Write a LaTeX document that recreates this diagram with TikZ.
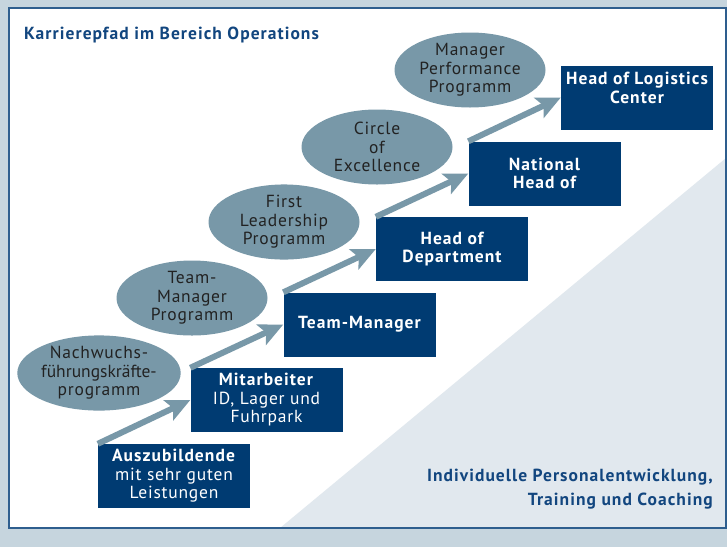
\documentclass[tikz,border=0pt]{standalone}
\usepackage{fontspec}
\setmainfont{PT Sans}[LetterSpace=4.5, BoldFeatures={LetterSpace=6}]
\usetikzlibrary{arrows.meta,shapes.geometric}
\definecolor{outer}{HTML}{C6D5DE}
\definecolor{rim}{HTML}{2E5E8E}
\definecolor{wedge}{HTML}{E1E8EE}
\definecolor{navy}{HTML}{003B72}
\definecolor{steel}{HTML}{7898A8}
\definecolor{ink}{HTML}{222222}
\definecolor{headblue}{HTML}{12467F}
\begin{document}
\begin{tikzpicture}[x=1pt,y=-1pt,
  stepbox/.style={fill=navy, text=white, minimum width=152pt, minimum height=64pt,
    inner sep=0pt, align=center, font=\fontsize{17.5}{18.5}\selectfont},
  boldbox/.style={stepbox, font=\bfseries\fontsize{17.5}{18.5}\selectfont},
  boxtext/.style={text=white, inner sep=0pt, align=center, font=\bfseries\fontsize{17.5}{18.5}\selectfont},
  prog/.style={ellipse, fill=steel, minimum width=151pt, minimum height=75pt,
    inner sep=0pt, align=center, text=ink, font=\fontsize{17.5}{18.5}\selectfont},
  climb/.style={draw=steel, line width=6pt, -{Stealth[length=24pt,width=22pt,inset=5pt]}},
  heading/.style={text=headblue, inner sep=0pt, font=\bfseries\fontsize{17.5}{19}\selectfont}
]
% frame and panel
\fill[outer] (0,0) rectangle (727,547);
\fill[white] (9,8) rectangle (726,528);
\fill[wedge] (280,528) -- (726,158) -- (726,528) -- cycle;
\draw[rim, line width=1.2pt] (9,8) rectangle (726,528);

% title
\node[heading, anchor=base west] (title) at (24,39) {Karrierepfad im Bereich Operations};

% development programmes
\node[prog] (p1) at (99,373) {Nachwuchs-\\{\addfontfeature{LetterSpace=0}führungskräfte-}\\programm};
\node[prog] (p2) at (192,298) {Team-\\Manager\\Programm};
\node[prog] (p3) at (284,222) {First\\Leadership\\Programm};
\node[prog] (p4) at (377,147) {Circle\\of\\Excellence};
\node[prog] (p5) at (470,70) {Manager\\Performance\\Programm};

% career steps
\node[stepbox] (b1) at (174,476) {\textbf{Auszubildende}\\mit sehr guten\\Leistungen};
\node[stepbox] (b2) at (266.5,400) {\textbf{Mitarbeiter}\\ID, Lager und\\Fuhrpark};
\node[boldbox] (b3) at (359.5,324.5) {Team-Manager};
\node[boldbox] (b4) at (452,249) {Head of\\Department};
\node[boldbox] (b5) at (544.5,173.5) {National\\Head of};
\node[stepbox] (b6) at (637,97.5) {};
\node[boxtext] (b6t) at (637,88) {Head of Logistics\\Center};

% arrows between steps
\draw[climb] (b1.north west) -- (b2.west);
\draw[climb] (b2.north west) -- (b3.west);
\draw[climb] (b3.north west) -- (b4.west);
\draw[climb] (b4.north west) -- (b5.west);
\draw[climb] (b5.north west) -- (b6.west);

% footer text
\node[heading, anchor=north east, align=right, font=\bfseries\fontsize{17.5}{24.5}\selectfont]
  (foot) at (713,468.5) {Individuelle Personalentwicklung,\\Training und Coaching};
\end{tikzpicture}
\end{document}
